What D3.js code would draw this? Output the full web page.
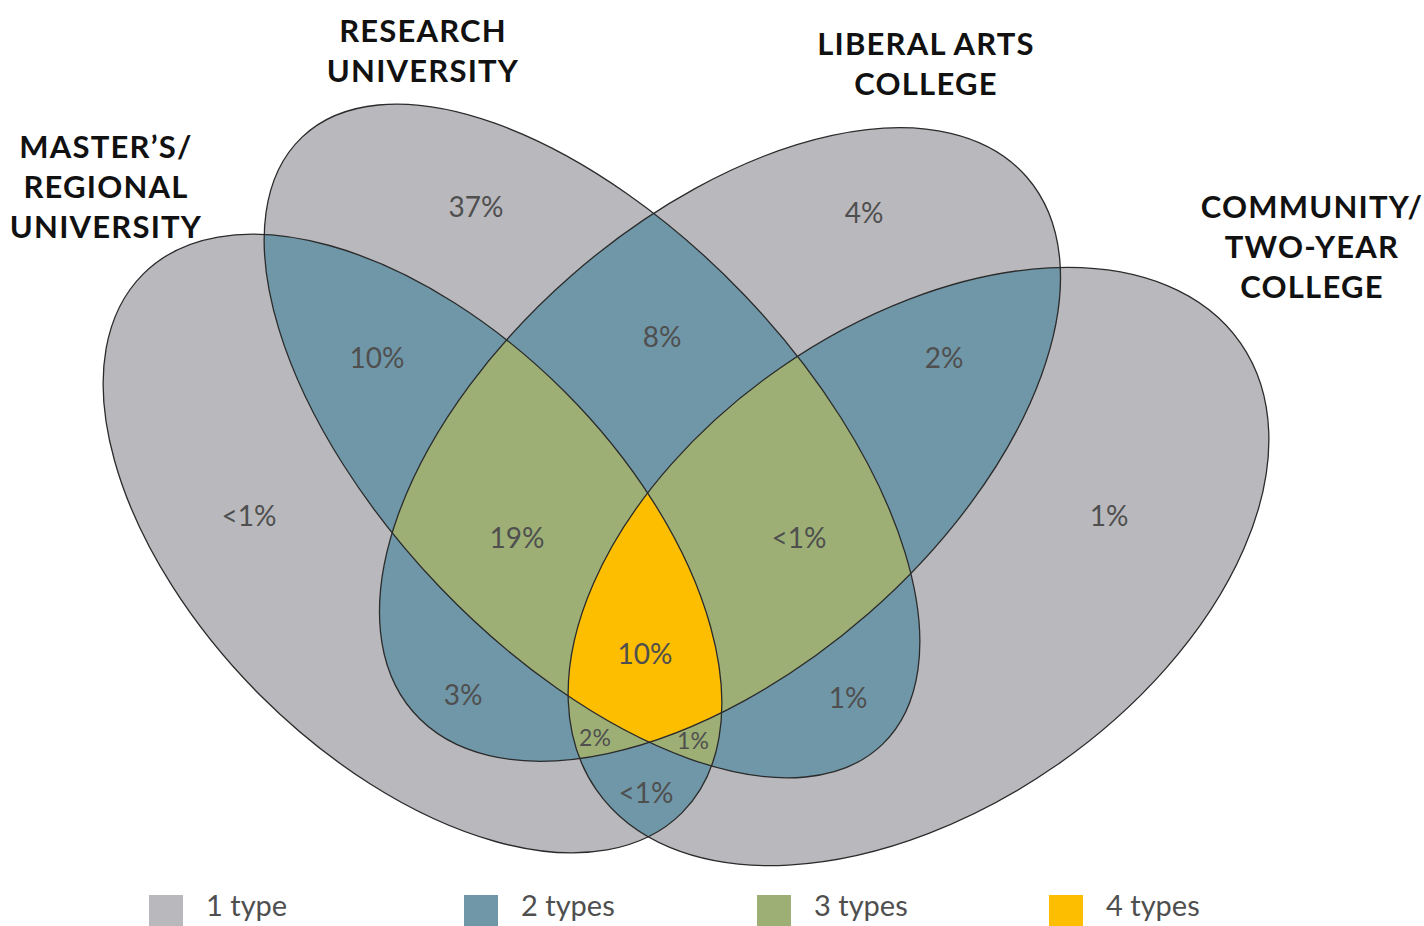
<!DOCTYPE html>
<html><head><meta charset="utf-8">
<script src="https://cdn.jsdelivr.net/npm/d3@7"></script>
<style>
html,body{margin:0;padding:0;background:#fff;}
svg{display:block;}
</style>
</head><body>
<svg id="chart" width="1424" height="926"></svg>
<script>
// ---------------- DATA ----------------
const sets = ["master", "research", "liberal", "community"];
const setTitles = [
  ["MASTER’S/", "REGIONAL", "UNIVERSITY"],
  ["RESEARCH", "UNIVERSITY"],
  ["LIBERAL ARTS", "COLLEGE"],
  ["COMMUNITY/", "TWO-YEAR", "COLLEGE"]
];
const regionKeys = [
  "research", "liberal", "master", "community",
  "master+research", "research+liberal", "liberal+community",
  "master+liberal", "research+community", "master+community",
  "master+research+liberal", "research+liberal+community",
  "master+liberal+community", "master+research+community",
  "master+research+liberal+community"
];
const regionValues = [
  "37%", "4%", "<1%", "1%",
  "10%", "8%", "2%",
  "3%", "1%", "<1%",
  "19%", "<1%",
  "2%", "1%",
  "10%"
];
const legendCounts = [1, 2, 3, 4];
const legendLabels = ["1 type", "2 types", "3 types", "4 types"];

// ---------------- LAYOUT ----------------
const W = 1424, H = 926;
const ellipseGeom = {
  master:    {cx: 412.5, cy: 543.5, rx: 381, ry: 215, rot: 45},
  research:  {cx: 592,   cy: 441,   rx: 420, ry: 211, rot: 46.3},
  liberal:   {cx: 720,   cy: 444.5, rx: 407, ry: 225, rot: -41.1},
  community: {cx: 918.5, cy: 566.5, rx: 392, ry: 242, rot: -34.75}
};
const titleAnchor = {
  master:    {x: 106,  y: 146},
  research:  {x: 423,  y: 30},
  liberal:   {x: 926,  y: 43},
  community: {x: 1312, y: 206}
};
const titleLineH = 40;
const labelAnchor = {
  "research": [476, 207], "liberal": [864, 213], "master": [249, 516], "community": [1109, 516],
  "master+research": [377, 358], "research+liberal": [662, 337], "liberal+community": [944, 358],
  "master+liberal": [463, 695], "research+community": [848, 698], "master+community": [646, 793],
  "master+research+liberal": [517, 538], "research+liberal+community": [799, 538],
  "master+liberal+community": [595, 738], "master+research+community": [693, 741],
  "master+research+liberal+community": [645, 654]
};
const smallLabels = new Set(["master+liberal+community", "master+research+community"]);
const legendX = [149, 464, 757, 1049];
const legendY = 895;

const color = d3.scaleOrdinal().domain(legendCounts)
  .range(["#b9b9bd", "#6f97a8", "#9daf75", "#fdbe00"]);

const svg = d3.select("#chart");
const defs = svg.append("defs");

function ellipseAttrs(sel) {
  sel.attr("cx", d => ellipseGeom[d].cx).attr("cy", d => ellipseGeom[d].cy)
     .attr("rx", d => ellipseGeom[d].rx).attr("ry", d => ellipseGeom[d].ry)
     .attr("transform", d => `rotate(${ellipseGeom[d].rot},${ellipseGeom[d].cx},${ellipseGeom[d].cy})`);
}

defs.selectAll("clipPath").data(sets).join("clipPath")
  .attr("id", d => "clip-" + d)
  .append("ellipse").call(ellipseAttrs);

// single sets
svg.append("g").selectAll("ellipse").data(sets).join("ellipse")
  .call(ellipseAttrs).attr("fill", color(1));

// all intersections of 2, 3, 4 sets
function subsets(arr, k) {
  if (k === 0) return [[]];
  if (arr.length < k) return [];
  const [h, ...t] = arr;
  return subsets(t, k - 1).map(s => [h, ...s]).concat(subsets(t, k));
}
[2, 3, 4].forEach(k => {
  subsets(sets, k).forEach(sub => {
    let g = svg.append("g");
    sub.slice(0, -1).forEach(s => { g = g.append("g").attr("clip-path", `url(#clip-${s})`); });
    g.append("ellipse").datum(sub[sub.length - 1]).call(ellipseAttrs).attr("fill", color(k));
  });
});

// outlines
svg.append("g").selectAll("ellipse").data(sets).join("ellipse")
  .call(ellipseAttrs).attr("fill", "none").attr("stroke", "#2b2b2b").attr("stroke-width", 1.3);

// region labels
svg.append("g").selectAll("text").data(regionKeys).join("text")
  .attr("x", d => labelAnchor[d][0]).attr("y", d => labelAnchor[d][1])
  .attr("dy", "0.36em").attr("text-anchor", "middle")
  .attr("font-family", "Lato, 'Open Sans', sans-serif")
  .attr("font-size", d => smallLabels.has(d) ? 23 : 28)
  .attr("fill", "#4f4f4f")
  .text((d, i) => regionValues[i]);

// titles
const tg = svg.append("g");
sets.forEach((s, i) => {
  tg.append("text")
    .attr("x", titleAnchor[s].x).attr("y", titleAnchor[s].y)
    .attr("text-anchor", "middle")
    .attr("font-family", "Lato, sans-serif").attr("font-weight", 700)
    .attr("font-size", 31).attr("fill", "#111")
    .attr("letter-spacing", "1.2px")
    .attr("dominant-baseline", "central")
    .selectAll("tspan").data(setTitles[i]).join("tspan")
    .attr("x", titleAnchor[s].x).attr("dy", (d, j) => j === 0 ? 0 : titleLineH)
    .text(d => d);
});

// legend
const lg = svg.append("g").selectAll("g").data(legendCounts).join("g")
  .attr("transform", (d, i) => `translate(${legendX[i]},${legendY})`);
lg.append("rect").attr("width", 34).attr("height", 34).attr("fill", d => color(d));
lg.append("text").attr("x", 57).attr("y", 21)
  .attr("font-family", "Lato, 'Open Sans', sans-serif").attr("font-size", 29)
  .attr("fill", "#4f4f4f").text((d, i) => legendLabels[i]);
</script>
</body></html>
